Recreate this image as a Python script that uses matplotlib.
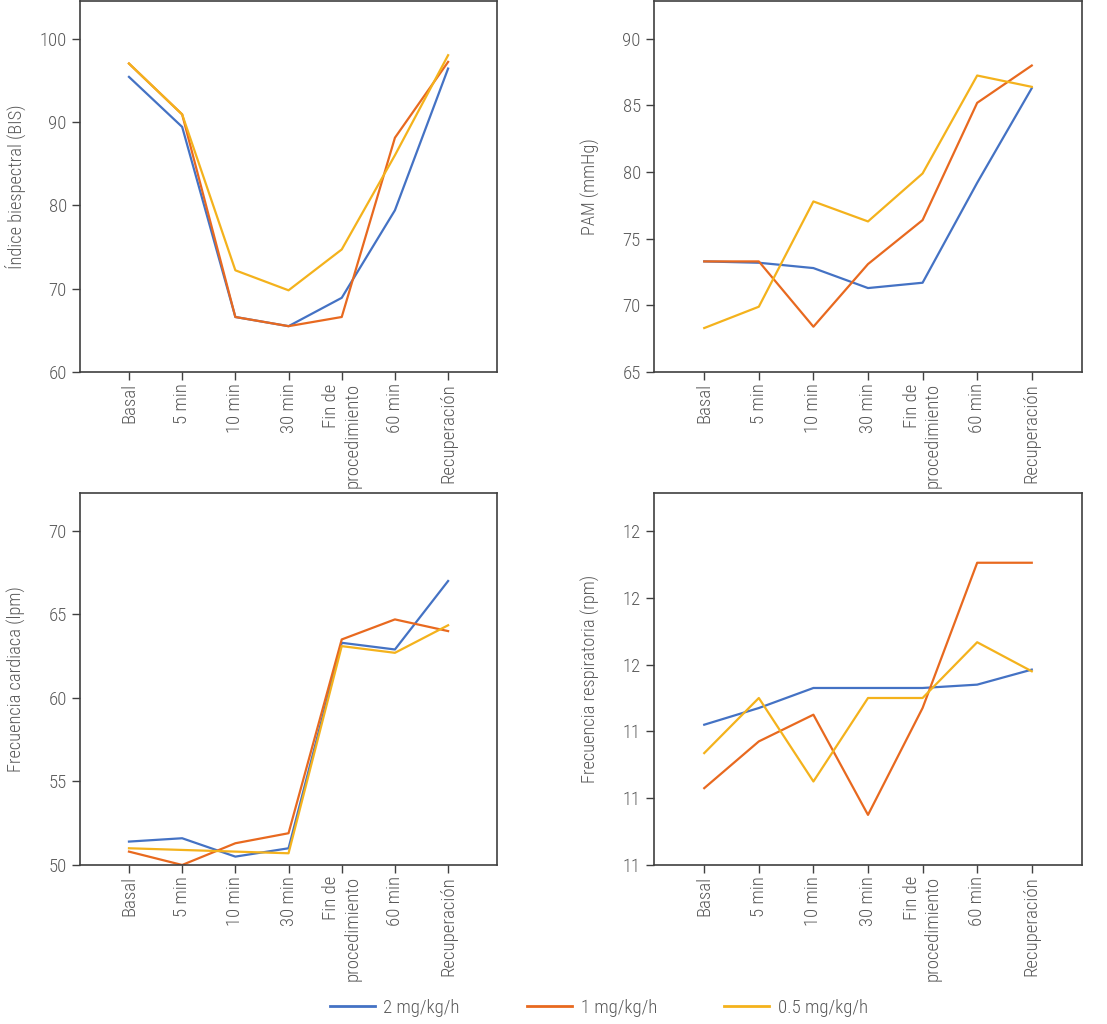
import matplotlib.pyplot as plt
from matplotlib import font_manager

# time points (x axis categories)
tiempos = ['Basal', '5 min', '10 min', '30 min', 'Fin de\nprocedimiento', '60 min', 'Recuperación']
dosis = ['2 mg/kg/h', '1 mg/kg/h', '0.5 mg/kg/h']
colores = ['#4472C4', '#E8691F', '#F4B21C']

# Indice biespectral (BIS)
bis_2 = [95.4, 89.4, 66.6, 65.5, 68.9, 79.4, 96.4]
bis_1 = [97.0, 90.9, 66.6, 65.5, 66.6, 88.1, 97.2]
bis_05 = [97.0, 90.9, 72.2, 69.8, 74.7, 86.0, 98.0]

# PAM (mmHg)
pam_2 = [73.3, 73.2, 72.8, 71.3, 71.7, 79.2, 86.3]
pam_1 = [73.3, 73.3, 68.4, 73.1, 76.4, 85.2, 88.0]
pam_05 = [68.3, 69.9, 77.8, 76.3, 79.9, 87.25, 86.4]

# Frecuencia cardiaca (lpm)
fc_2 = [51.4, 51.6, 50.5, 51.0, 63.3, 62.9, 67.0]
fc_1 = [50.8, 50.0, 51.3, 51.9, 63.5, 64.7, 64.0]
fc_05 = [51.0, 50.9, 50.8, 50.7, 63.1, 62.7, 64.35]

# Frecuencia respiratoria (rpm)
fr_2 = [11.42, 11.47, 11.53, 11.53, 11.53, 11.54, 11.585]
fr_1 = [11.23, 11.37, 11.45, 11.15, 11.47, 11.905, 11.905]
fr_05 = [11.335, 11.50, 11.25, 11.50, 11.50, 11.667, 11.58]

nombres = [f.name for f in font_manager.fontManager.ttflist]
if 'Roboto Condensed' in nombres:
    plt.rcParams['font.family'] = ['Roboto Condensed', 'DejaVu Sans']
    plt.rcParams['font.weight'] = 'light'
    plt.rcParams['axes.labelweight'] = 'light'
else:
    plt.rcParams['font.family'] = ['Liberation Sans', 'DejaVu Sans']

gris = '#595959'
fig = plt.figure(figsize=(11.07, 10.24), dpi=100)

paneles = [
    ([0.0723, 0.6367, 0.3767, 0.3623], [bis_2, bis_1, bis_05], 'Índice biespectral (BIS)', (60, 104.5), [60, 70, 80, 90, 100]),
    ([0.5908, 0.6367, 0.3866, 0.3623], [pam_2, pam_1, pam_05], 'PAM (mmHg)', (65, 92.84), [65, 70, 75, 80, 85, 90]),
    ([0.0723, 0.1553, 0.3767, 0.3633], [fc_2, fc_1, fc_05], 'Frecuencia cardiaca (lpm)', (50, 72.27), [50, 55, 60, 65, 70]),
    ([0.5908, 0.1553, 0.3866, 0.3633], [fr_2, fr_1, fr_05], 'Frecuencia respiratoria (rpm)', (11.0, 12.114), [11.0, 11.2, 11.4, 11.6, 11.8, 12.0]),
]

x = list(range(len(tiempos)))
for pos, series, etiqueta, ylim, yticks in paneles:
    ax = fig.add_axes(pos)
    for serie, nombre, color in zip(series, dosis, colores):
        ax.plot(x, serie, color=color, linewidth=1.6, label=nombre)
    ax.set_xlim(-0.92, 6.92)
    ax.set_ylim(*ylim)
    ax.set_yticks(yticks)
    ax.set_yticklabels(['%.0f' % v for v in yticks])
    ax.set_xticks(x)
    ax.set_xticklabels(tiempos, rotation=90, va='top', ha='center', multialignment='right')
    ax.set_ylabel(etiqueta, fontsize=13.2, color=gris)
    ax.yaxis.set_label_coords(-54 / (pos[2] * 1107), 0.5)
    ax.tick_params(axis='both', colors='#404040', labelcolor=gris, labelsize=13.5, length=6, width=1)
    ax.tick_params(axis='x', pad=2)
    for sp in ax.spines.values():
        sp.set_color('#404040')
        sp.set_linewidth(1.2)

lineas = [plt.Line2D([], [], color=c, linewidth=2) for c in colores]
fig.legend(lineas, dosis, loc='center', bbox_to_anchor=(0.541, 0.016), ncol=3,
           frameon=False, fontsize=13.5, labelcolor=gris, handlelength=2.4,
           columnspacing=3.6, handletextpad=0.45)

plt.savefig('out.png', dpi=100)
